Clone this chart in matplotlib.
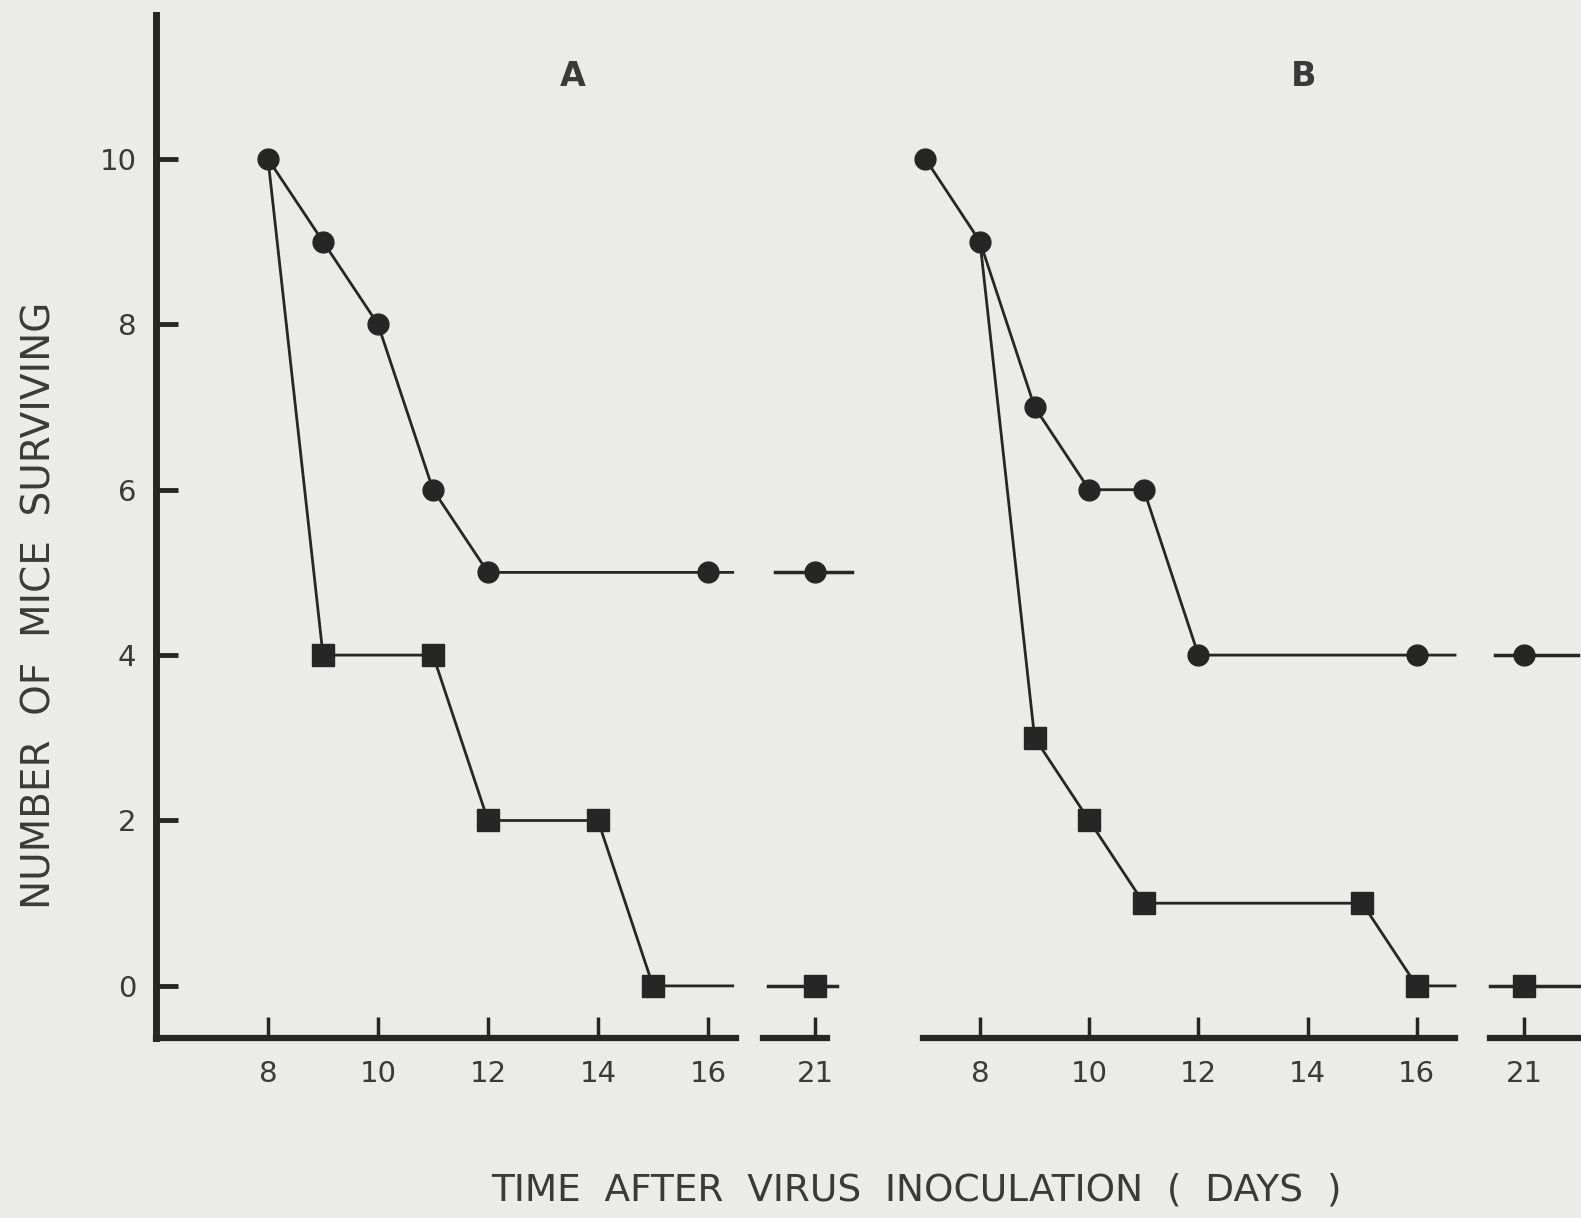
import matplotlib
matplotlib.use("Agg")
from matplotlib import pyplot as plt

# panel A, mice surviving per day
a_circ_days = [8, 9, 10, 11, 12, 16]
a_circ_vals = [10, 9, 8, 6, 5, 5]
a_sq_days = [8, 9, 11, 12, 14, 15]
a_sq_vals = [10, 4, 4, 2, 2, 0]
a_day21 = {'circ': 5, 'sq': 0}

# panel B
b_circ_days = [7, 8, 9, 10, 11, 12, 16]
b_circ_vals = [10, 9, 7, 6, 6, 4, 4]
b_sq_days = [8, 9, 10, 11, 15, 16]
b_sq_vals = [9, 3, 2, 1, 1, 0]
b_day21 = {'circ': 4, 'sq': 0}

x_ticks = [8, 10, 12, 14, 16]
y_ticks = [0, 2, 4, 6, 8, 10]

W, H = 1581, 1218
bg = '#ebebe9'
ink = '#262626'
txt = '#3a3a3a'

plt.rcParams['font.family'] = ['DejaVu Sans']
fig = plt.figure(figsize=(W / 100, H / 100), dpi=100, facecolor=bg)

TOP, BOT = 15, 1038
YLIM = (-0.63, 11.74)


def add_ax(x0, x1):
    ax = fig.add_axes([x0 / W, 1 - BOT / H, (x1 - x0) / W, (BOT - TOP) / H])
    ax.patch.set_alpha(0)
    ax.set_ylim(*YLIM)
    for s in ['top', 'right', 'left']:
        ax.spines[s].set_visible(False)
    ax.spines['bottom'].set_linewidth(4.5)
    ax.spines['bottom'].set_color(ink)
    ax.set_yticks([])
    ax.tick_params(axis='x', direction='in', length=15, width=2.5, color=ink,
                   pad=16, labelsize=21, labelcolor=txt)
    return ax


def draw_series(ax, days, vals, marker, ms, tail, first_marker=True):
    xs = days + [tail]
    ys = vals + [vals[-1]]
    every = list(range(0 if first_marker else 1, len(days)))
    ax.plot(xs, ys, '-', color=ink, lw=2, marker=marker, ms=ms,
            markevery=every, mfc=ink, mec=ink, clip_on=False, zorder=3)


def draw_stub(ax, val, marker, ms, lo, hi):
    ax.plot([lo, hi], [val, val], '-', color=ink, lw=2.5, clip_on=False)
    ax.plot([21], [val], marker=marker, ms=ms, color=ink, clip_on=False, zorder=3)


# panel A main axes: 55 px per day, day 8 at x=268
axA = add_ax(156, 736)
axA.set_xlim(8 - (268 - 156) / 55, 8 + (736 - 268) / 55)
axA.spines['left'].set_visible(True)
axA.spines['left'].set_linewidth(5)
axA.spines['left'].set_color(ink)
axA.set_yticks(y_ticks)
axA.tick_params(axis='y', direction='in', length=16, width=3.5, color=ink,
                pad=14, labelsize=21, labelcolor=txt)
axA.set_xticks(x_ticks)
draw_series(axA, a_sq_days, a_sq_vals, 's', 16, 16.45, first_marker=False)
draw_series(axA, a_circ_days, a_circ_vals, 'o', 15, 16.45)

axA2 = add_ax(763, 870)
axA2.set_xlim(21 - (815 - 763) / 55, 21 + (870 - 815) / 55)
axA2.spines['bottom'].set_bounds(21 - (815 - 763) / 55, 21 + (827 - 815) / 55)
axA2.set_xticks([21])
draw_stub(axA2, a_day21['circ'], 'o', 15, 20.27, 21.67)
draw_stub(axA2, a_day21['sq'], 's', 16, 20.15, 21.40)

# panel B: 54.6 px per day, day 8 at x=980
axB = add_ax(923, 1455)
axB.set_xlim(8 - (980 - 923) / 54.6, 8 + (1455 - 980) / 54.6)
axB.set_xticks(x_ticks)
draw_series(axB, b_sq_days, b_sq_vals, 's', 16, 16.7, first_marker=False)
draw_series(axB, b_circ_days, b_circ_vals, 'o', 15, 16.7)

axB2 = add_ax(1490, 1581)
axB2.set_xlim(21 - (1524 - 1490) / 54.6, 21 + (1581 - 1524) / 54.6)
axB2.set_xticks([21])
draw_stub(axB2, b_day21['circ'], 'o', 15, 20.47, 21.99)
draw_stub(axB2, b_day21['sq'], 's', 16, 20.38, 22.03)

fig.text(573 / W, 1 - 76 / H, 'A', ha='center', va='center', fontsize=24,
         fontweight='bold', color=txt)
fig.text(1304 / W, 1 - 76 / H, 'B', ha='center', va='center', fontsize=24,
         fontweight='bold', color=txt)

fig.text(40 / W, 1 - 605 / H, 'NUMBER  OF  MICE  SURVIVING', rotation=90,
         ha='center', va='center', fontsize=28, color=txt)
fig.text(916 / W, 1 - 1190 / H, 'TIME  AFTER  VIRUS  INOCULATION  (  DAYS  )',
         ha='center', va='center', fontsize=27, color=txt)

fig.savefig('out.png', dpi=100, facecolor=bg)
